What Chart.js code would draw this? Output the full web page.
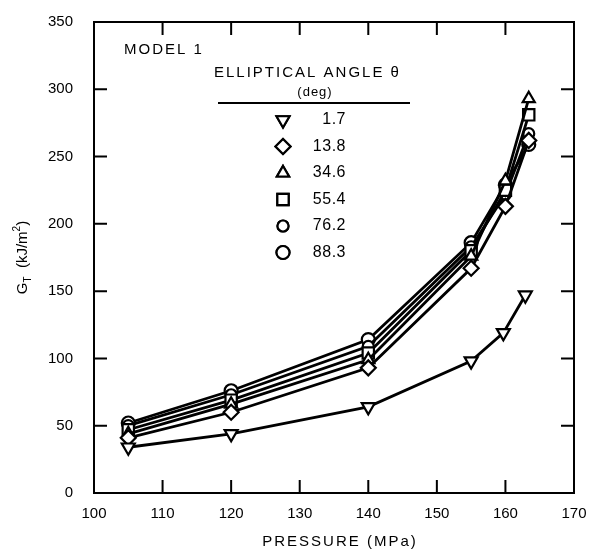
<!DOCTYPE html>
<html>
<head>
<meta charset="utf-8">
<script src="https://cdn.jsdelivr.net/npm/chart.js@4.4.1/dist/chart.umd.min.js"></script>
<style>
html,body{margin:0;padding:0;background:#fff;}
</style>
</head>
<body>
<canvas id="myChart" width="597" height="557"></canvas>
<script>
// pressure (MPa) for each test point
var pressure=[105,120,140,155,160,163.4];
var pressureLow=[105,120,140,155,159.7,162.9];
var angleLabels=["1.7","13.8","34.6","55.4","76.2","88.3"];
// G_T (kJ/m^2)
var g1_7=[34,44,64,98,119,147];
var g13_8=[41,60,93,167,213,262];
var g34_6=[44,66,99,176,232,293];
var g55_4=[47,69,104,180,225,281];
var g76_2=[50,73,109,183,222,267];
var g88_3=[52,76,114,186,229,259];
var xTicks=[100,110,120,130,140,150,160,170];
var yTicks=[0,50,100,150,200,250,300,350];

var FONT="'Liberation Sans', Arial, sans-serif";

function pts(xs,ys){
    var out=[];
    for(var i=0;i<ys.length;i++){ out.push({x:xs[i],y:ys[i]}); }
    return out;
}

function makeSet(label,xs,ys,style,radius,rotation){
    return {
        label:label,
        data:pts(xs,ys),
        showLine:true,
        borderColor:"#000",
        borderWidth:2.8,
        pointStyle:style,
        pointRadius:radius,
        pointRotation:rotation||0,
        pointBorderWidth:2.2,
        pointBorderColor:"#000",
        pointBackgroundColor:"#fff"
    };
}

var datasets=[
    makeSet(angleLabels[0],pressureLow,g1_7,"triangle",7.5,180),
    makeSet(angleLabels[1],pressure,g13_8,"rectRot",7.5),
    makeSet(angleLabels[2],pressure,g34_6,"triangle",7),
    makeSet(angleLabels[3],pressure,g55_4,"rect",8),
    makeSet(angleLabels[4],pressure,g76_2,"circle",5.5),
    makeSet(angleLabels[5],pressure,g88_3,"circle",6.5)
];

// frame, inward ticks, titles and the inset key
var decor={
    id:"decor",
    afterDraw:function(chart){
        var ctx=chart.ctx, a=chart.chartArea;
        var xs=chart.scales.x, ys=chart.scales.y;
        var len=13;
        ctx.save();
        ctx.strokeStyle="#000";
        ctx.lineWidth=2;
        ctx.strokeRect(a.left,a.top,a.right-a.left,a.bottom-a.top);
        ctx.beginPath();
        xs.ticks.forEach(function(t){
            var px=xs.getPixelForValue(t.value);
            ctx.moveTo(px,a.bottom); ctx.lineTo(px,a.bottom-len);
            ctx.moveTo(px,a.top); ctx.lineTo(px,a.top+len);
        });
        ys.ticks.forEach(function(t){
            var py=ys.getPixelForValue(t.value);
            ctx.moveTo(a.left,py); ctx.lineTo(a.left+len,py);
            ctx.moveTo(a.right,py); ctx.lineTo(a.right-len,py);
        });
        ctx.stroke();

        ctx.fillStyle="#000";
        // x title
        ctx.font="15px "+FONT;
        ctx.letterSpacing="2px";
        ctx.textAlign="center";
        ctx.textBaseline="middle";
        ctx.fillText("PRESSURE (MPa)",340,542);

        // y title, rotated
        ctx.letterSpacing="0px";
        ctx.save();
        ctx.translate(23,(a.top+a.bottom)/2);
        ctx.rotate(-Math.PI/2);
        ctx.textAlign="left";
        ctx.textBaseline="middle";
        var big="15px "+FONT, small="10px "+FONT;
        ctx.font=big; var wG=ctx.measureText("G").width;
        ctx.font=small; var wT=ctx.measureText("T").width;
        ctx.font=big; var wU=ctx.measureText("  (kJ/m").width;
        ctx.font=small; var w2=ctx.measureText("2").width;
        ctx.font=big; var wP=ctx.measureText(")").width;
        var x0=-(wG+wT+wU+w2+wP)/2;
        ctx.font=big; ctx.fillText("G",x0,0); x0+=wG;
        ctx.font=small; ctx.fillText("T",x0,5); x0+=wT;
        ctx.font=big; ctx.fillText("  (kJ/m",x0,0); x0+=wU;
        ctx.font=small; ctx.fillText("2",x0,-6); x0+=w2;
        ctx.font=big; ctx.fillText(")",x0,0);
        ctx.restore();

        // inset key
        ctx.font="15px "+FONT;
        ctx.letterSpacing="2px";
        ctx.textAlign="left";
        ctx.textBaseline="middle";
        ctx.fillText("MODEL 1",124,50);
        ctx.fillText("ELLIPTICAL ANGLE \u03b8",214,73);
        ctx.font="13px "+FONT;
        ctx.letterSpacing="1px";
        ctx.textAlign="center";
        ctx.fillText("(deg)",315,92);
        ctx.beginPath();
        ctx.moveTo(218,103); ctx.lineTo(410,103);
        ctx.stroke();
        ctx.font="16px "+FONT;
        ctx.letterSpacing="0.5px";
        ctx.textAlign="right";
        chart.data.datasets.forEach(function(ds,i){
            var y=120+i*26.5;
            Chart.helpers.drawPoint(ctx,{
                pointStyle:ds.pointStyle,
                radius:ds.pointRadius,
                rotation:ds.pointRotation,
                borderWidth:2
            },283,y);
            ctx.fillStyle="#fff";
            ctx.fill();
            ctx.strokeStyle="#000";
            ctx.lineWidth=2.2;
            ctx.stroke();
            ctx.fillStyle="#000";
            ctx.fillText(ds.label,346,y);
        });
        ctx.restore();
    }
};

var ctx=document.getElementById("myChart").getContext("2d");
var myChart=new Chart(ctx,{
    type:"scatter",
    data:{datasets:datasets},
    options:{
        responsive:false,
        animation:false,
        devicePixelRatio:1,
        layout:{padding:{left:0,top:19,right:23,bottom:0}},
        plugins:{legend:{display:false},tooltip:{enabled:false}},
        scales:{
            x:{
                type:"linear",
                min:100,max:170,
                afterBuildTicks:function(s){ s.ticks=xTicks.map(function(v){return {value:v};}); },
                afterFit:function(s){ s.height=557-493; },
                grid:{display:false},
                border:{display:false},
                ticks:{color:"#000",padding:4,maxRotation:0,font:{family:FONT,size:15}}
            },
            y:{
                type:"linear",
                min:0,max:350,
                afterBuildTicks:function(s){ s.ticks=yTicks.map(function(v){return {value:v};}); },
                afterFit:function(s){ s.width=94; },
                grid:{display:false},
                border:{display:false},
                ticks:{color:"#000",padding:13,font:{family:FONT,size:15}}
            }
        }
    },
    plugins:[decor]
});
</script>
</body>
</html>
